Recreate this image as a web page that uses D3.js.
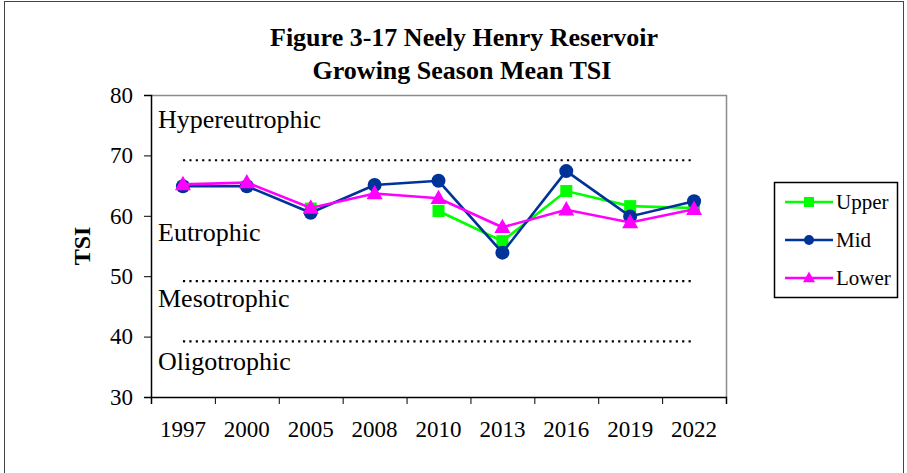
<!DOCTYPE html>
<html>
<head>
<meta charset="utf-8">
<script src="https://cdn.jsdelivr.net/npm/d3@7"></script>
<style>
  body { margin: 0; background: #fff; }
  svg text { font-family: "Liberation Serif", "Times New Roman", serif !important; fill: #000; }
</style>
</head>
<body>
<svg width="907" height="473"></svg>
<script>
// data
var years = ["1997", "2000", "2005", "2008", "2010", "2013", "2016", "2019", "2022"];
var upper = [null, null, 61.2, null, 60.8, 55.8, 64.1, 61.6, 61.3];
var mid   = [64.9, 64.9, 60.5, 65.1, 65.8, 53.9, 67.4, 59.9, 62.4];
var lower = [65.2, 65.5, 61.3, 63.7, 62.9, 58.1, 61.0, 58.9, 61.1];
var bounds = [69.2, 49.2, 39.2];
var zones = [
  { name: "Hypereutrophic", y: 74.5 },
  { name: "Eutrophic", y: 55.8 },
  { name: "Mesotrophic", y: 44.9 },
  { name: "Oligotrophic", y: 34.5 }
];
var yTicks = [30, 40, 50, 60, 70, 80];

var series = [
  { name: "Upper", values: upper, color: "#00ff00", shape: "square" },
  { name: "Mid", values: mid, color: "#003399", shape: "circle" },
  { name: "Lower", values: lower, color: "#ff00ff", shape: "triangle" }
];

var svg = d3.select("svg");
var plot = { left: 151, right: 726, top: 95, bottom: 397 };

// outer frame
svg.append("rect")
  .attr("x", 4.5).attr("y", 1.5)
  .attr("width", 899).attr("height", 500)
  .attr("fill", "none").attr("stroke", "#444").attr("stroke-width", 1);

// title
svg.append("text").attr("x", 464).attr("y", 46)
  .attr("text-anchor", "middle").attr("font-size", 26).attr("font-weight", "bold")
  .text("Figure 3-17 Neely Henry Reservoir");
svg.append("text").attr("x", 462).attr("y", 79)
  .attr("text-anchor", "middle").attr("font-size", 26).attr("font-weight", "bold")
  .text("Growing Season Mean TSI");

var x = d3.scaleBand().domain(years).range([plot.left, plot.right]).padding(0);
var xEdge = d3.scaleLinear().domain([0, years.length]).range([plot.left, plot.right]);
var y = d3.scaleLinear().domain([30, 80]).range([plot.bottom, plot.top]);
var cx = function (i) { return x(years[i]) + x.bandwidth() / 2; };

// plot frame (top / right in gray)
svg.append("path")
  .attr("d", "M" + plot.left + "," + (plot.top + 0.5) + "H" + (plot.right + 0.5) + "V" + plot.bottom)
  .attr("fill", "none").attr("stroke", "#8c8c8c").attr("stroke-width", 1.5);

// y axis
var yAxis = svg.append("g")
  .attr("transform", "translate(" + plot.left + ",0)")
  .call(d3.axisLeft(y).tickValues(yTicks).tickSize(7).tickPadding(11));
yAxis.select(".domain").attr("stroke", "#000").attr("stroke-width", 1.5);
yAxis.selectAll(".tick line").attr("stroke", "#000");
yAxis.selectAll(".tick text").attr("font-size", 23);

// x axis: boundary ticks + centered labels
var xTickG = svg.append("g")
  .attr("transform", "translate(0," + plot.bottom + ")")
  .call(d3.axisBottom(xEdge).tickValues(d3.range(years.length + 1)).tickSize(7).tickFormat(""));
xTickG.select(".domain").attr("stroke", "#000").attr("stroke-width", 1.5);
xTickG.selectAll(".tick line").attr("stroke", "#000");

var xLab = svg.append("g")
  .attr("transform", "translate(0," + plot.bottom + ")")
  .call(d3.axisBottom(x).tickSize(0).tickPadding(24));
xLab.select(".domain").remove();
xLab.selectAll(".tick text").attr("font-size", 23);

// y label
svg.append("text")
  .attr("transform", "translate(90,246) rotate(-90)")
  .attr("text-anchor", "middle").attr("font-size", 24).attr("font-weight", "bold")
  .text("TSI");

// trophic boundaries
svg.append("g").selectAll("line")
  .data(bounds).enter().append("line")
  .attr("x1", cx(0)).attr("x2", cx(years.length - 1))
  .attr("y1", function (d) { return y(d); })
  .attr("y2", function (d) { return y(d); })
  .attr("stroke", "#000").attr("stroke-width", 2.2)
  .attr("stroke-dasharray", "2.2,4.2");

svg.append("g").selectAll("text")
  .data(zones).enter().append("text")
  .attr("x", 158)
  .attr("y", function (d) { return y(d.y); })
  .attr("font-size", 26)
  .text(function (d) { return d.name; });

// marker shapes
function drawMarker(g, shape, color, s) {
  if (shape === "square") {
    g.append("rect").attr("x", -s / 2).attr("y", -s / 2)
      .attr("width", s).attr("height", s).attr("fill", color);
  } else if (shape === "circle") {
    g.append("circle").attr("r", s / 2).attr("fill", color);
  } else {
    var h = s * 0.9;
    g.append("path")
      .attr("d", "M0," + (-h * 0.6) + "L" + (s / 2) + "," + (h * 0.4) + "L" + (-s / 2) + "," + (h * 0.4) + "Z")
      .attr("fill", color);
  }
}
var markerSize = { square: 12, circle: 14, triangle: 16 };

// lines break where a value is missing
var line = d3.line()
  .defined(function (d) { return d != null; })
  .x(function (d, i) { return cx(i); })
  .y(function (d) { return y(d); });

series.forEach(function (s) {
  svg.append("path")
    .datum(s.values)
    .attr("fill", "none").attr("stroke", s.color).attr("stroke-width", 2.6)
    .attr("d", line);
  s.values.forEach(function (v, i) {
    if (v == null) return;
    var g = svg.append("g").attr("transform", "translate(" + cx(i) + "," + y(v) + ")");
    drawMarker(g, s.shape, s.color, markerSize[s.shape]);
  });
});

// legend
var leg = svg.append("g").attr("transform", "translate(774,182)");
leg.append("rect").attr("x", 0.5).attr("y", 0.5).attr("width", 123).attr("height", 115)
  .attr("fill", "#fff").attr("stroke", "#000").attr("stroke-width", 1.5);
series.forEach(function (s, i) {
  var ly = 20 + i * 38;
  var r = leg.append("g").attr("transform", "translate(0," + ly + ")");
  r.append("line").attr("x1", 11).attr("x2", 59).attr("stroke", s.color).attr("stroke-width", 2.4);
  var m = r.append("g").attr("transform", "translate(35,0)");
  drawMarker(m, s.shape, s.color, s.shape === "triangle" ? 12 : 10);
  r.append("text").attr("x", 62).attr("y", 7).attr("font-size", 21).text(s.name);
});
</script>
</body>
</html>
